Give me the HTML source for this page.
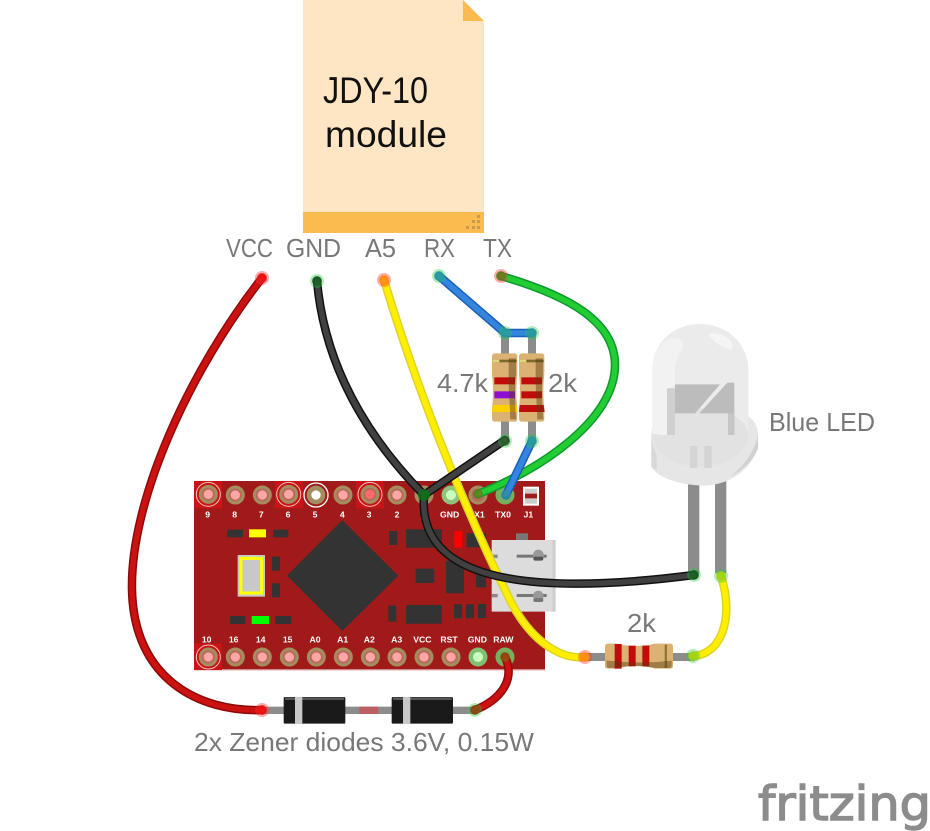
<!DOCTYPE html>
<html><head><meta charset="utf-8"><style>
html,body{margin:0;padding:0;background:#fff;width:930px;height:831px;overflow:hidden}
svg{display:block}
text{font-family:"Liberation Sans",sans-serif}
.lab{fill:#787878;font-size:26px}
.pl{fill:#fff;font-size:26px;font-weight:bold;text-anchor:middle}
</style></head><body>
<svg width="930" height="831" viewBox="0 0 930 831" xmlns="http://www.w3.org/2000/svg">
<!-- note -->
<path d="M303,0H463L484,21V233H303Z" fill="#fee6c4"/>
<path d="M463,0L484,21H463Z" fill="#fcbb4f"/>
<rect x="303" y="212" width="181" height="21" fill="#fcbb4f"/>
<g fill="#c89b4d"><rect x="477" y="215" width="3" height="3"/><rect x="472" y="220" width="3" height="3"/><rect x="477" y="220" width="3" height="3"/><rect x="466" y="226" width="3" height="3"/><rect x="472" y="226" width="3" height="3"/><rect x="477" y="226" width="3" height="3"/></g>
<text x="323" y="103" font-size="37" textLength="105" lengthAdjust="spacingAndGlyphs" fill="#111">JDY-10</text>
<text x="325" y="147" font-size="37" textLength="122" lengthAdjust="spacingAndGlyphs" fill="#111">module</text>
<g class="lab">
<text class="lab" x="226" y="257" textLength="47" lengthAdjust="spacingAndGlyphs">VCC</text>
<text class="lab" x="286" y="257" textLength="55" lengthAdjust="spacingAndGlyphs">GND</text>
<text class="lab" x="365" y="257" textLength="31" lengthAdjust="spacingAndGlyphs">A5</text>
<text class="lab" x="424" y="257" textLength="31" lengthAdjust="spacingAndGlyphs">RX</text>
<text class="lab" x="483" y="257" textLength="29" lengthAdjust="spacingAndGlyphs">TX</text>
<text class="lab" x="437" y="392" textLength="51" lengthAdjust="spacingAndGlyphs">4.7k</text>
<text class="lab" x="548" y="392" textLength="29" lengthAdjust="spacingAndGlyphs">2k</text>
<text class="lab" x="769" y="431" textLength="106" lengthAdjust="spacingAndGlyphs">Blue LED</text>
<text class="lab" x="627" y="632" textLength="29" lengthAdjust="spacingAndGlyphs">2k</text>
<text class="lab" x="194" y="751" textLength="340" lengthAdjust="spacingAndGlyphs">2x Zener diodes 3.6V, 0.15W</text>
</g>

<!-- board -->
<g transform="translate(190,470) scale(.33333)">
<rect x="12" y="33" width="1053" height="567" fill="#a01a1a"/>
<rect x="12" y="597" width="1053" height="4" fill="#d08a8a"/>
<rect x="12" y="33" width="84" height="82" fill="#c81414"/><rect x="255" y="33" width="84" height="82" fill="#c81414"/><rect x="498" y="33" width="84" height="82" fill="#c81414"/><rect x="12" y="520" width="84" height="80" fill="#c81414"/>
<g fill="#333"><path d="M457,150L625,317L457,483L291,317Z"/>
<rect x="112" y="179" width="47" height="23"/><rect x="249" y="179" width="46" height="23"/><rect x="120" y="438" width="46" height="24"/><rect x="256" y="438" width="48" height="24"/>
<rect x="246" y="260" width="24" height="42"/><rect x="246" y="340" width="24" height="42"/>
<rect x="598" y="183" width="24" height="42"/><rect x="648" y="178" width="108" height="55"/><rect x="830" y="190" width="58" height="42"/>
<rect x="677" y="296" width="56" height="43"/><rect x="768" y="273" width="54" height="97"/><rect x="858" y="300" width="30" height="52"/>
<rect x="595" y="407" width="24" height="48"/><rect x="648" y="405" width="108" height="56"/><rect x="792" y="403" width="24" height="42"/><rect x="828" y="403" width="24" height="42"/><rect x="864" y="402" width="24" height="42"/></g>
<rect x="177" y="178" width="51" height="24" fill="#ff0"/>
<rect x="185" y="438" width="52" height="24" fill="#0f0"/>
<rect x="793" y="183" width="24" height="50" fill="#f00"/>
<rect x="143" y="255" width="82" height="125" fill="#c8c8c8"/>
<rect x="153" y="265" width="62" height="104" fill="none" stroke="#ff0" stroke-width="9"/>
<!-- J1 -->
<rect x="999" y="50" width="48" height="57" fill="#fff"/><rect x="1005" y="56" width="36" height="45" fill="#ccc"/><rect x="1005" y="71" width="36" height="14" fill="#a01a1a"/>
<!-- USB -->
<rect x="978" y="190" width="36" height="22" fill="#777"/>
<path d="M905,210H1095V425H905Z" fill="#dcdcdc"/><rect x="1087" y="210" width="10" height="215" fill="#cfcfcf"/>
<rect x="980" y="254" width="90" height="9" fill="#777"/><circle cx="1045" cy="255" r="16" fill="#999"/><rect x="1030" y="260" width="30" height="12" rx="6" fill="#555"/>
<rect x="980" y="372" width="90" height="9" fill="#777"/><circle cx="1045" cy="378" r="16" fill="#999"/><rect x="1030" y="384" width="30" height="12" rx="6" fill="#777"/>
<rect x="905" y="254" width="18" height="10" fill="#888"/><rect x="905" y="372" width="18" height="10" fill="#888"/>
<!-- pins top -->
<g fill="#b66a5c" stroke="#a48d5e" stroke-width="9">
<circle cx="55" cy="73" r="24"/><circle cx="136" cy="75" r="24"/><circle cx="217" cy="75" r="24"/><circle cx="296" cy="73" r="24"/><circle cx="378" cy="75" r="28" fill="#a48d5e" stroke="none"/><circle cx="459" cy="75" r="24"/><circle cx="540" cy="73" r="24"/><circle cx="621" cy="75" r="24"/><circle cx="702" cy="75" r="24"/><circle cx="783" cy="75" r="24"/><circle cx="864" cy="75" r="24"/><circle cx="945" cy="75" r="24"/>
<circle cx="55" cy="561" r="24"/><circle cx="136" cy="561" r="24"/><circle cx="217" cy="561" r="24"/><circle cx="298" cy="561" r="24"/><circle cx="379" cy="561" r="24"/><circle cx="460" cy="561" r="24"/><circle cx="541" cy="561" r="24"/><circle cx="621" cy="561" r="24"/><circle cx="702" cy="561" r="24"/><circle cx="783" cy="561" r="24"/><circle cx="864" cy="561" r="24"/><circle cx="945" cy="561" r="24"/>
</g>
<g fill="none" stroke="#f6c0c0" stroke-width="3"><circle cx="55" cy="73" r="36"/><circle cx="296" cy="73" r="36"/><circle cx="540" cy="73" r="36"/><circle cx="55" cy="561" r="36"/></g>
<circle cx="378" cy="75" r="36" fill="none" stroke="#fff" stroke-width="4"/>
<g fill="#ffa5a5"><circle cx="55" cy="73" r="14"/><circle cx="136" cy="75" r="14"/><circle cx="217" cy="75" r="14"/><circle cx="296" cy="73" r="14"/><circle cx="459" cy="75" r="14"/><circle cx="621" cy="75" r="14"/>
<circle cx="55" cy="561" r="14"/><circle cx="136" cy="561" r="14"/><circle cx="217" cy="561" r="14"/><circle cx="298" cy="561" r="14"/><circle cx="379" cy="561" r="14"/><circle cx="460" cy="561" r="14"/><circle cx="541" cy="561" r="14"/><circle cx="621" cy="561" r="14"/><circle cx="702" cy="561" r="14"/><circle cx="783" cy="561" r="14"/></g>
<circle cx="378" cy="75" r="14" fill="#fff"/><circle cx="540" cy="73" r="14" fill="#ff6a6a"/>
<circle cx="783" cy="75" r="28" fill="#8fc37a"/><circle cx="783" cy="75" r="15" fill="#c8ffc0"/>
<circle cx="864" cy="561" r="28" fill="#7fbf70"/><circle cx="864" cy="561" r="15" fill="#c8ffc0"/>
<circle cx="945" cy="75" r="28" fill="#74b060"/><circle cx="945" cy="561" r="28" fill="#74b060"/>
<g class="pl">
<text class="pl" x="53" y="143">9</text><text class="pl" x="134" y="143">8</text><text class="pl" x="214" y="143">7</text><text class="pl" x="294" y="143">6</text><text class="pl" x="375" y="143">5</text><text class="pl" x="457" y="143">4</text><text class="pl" x="537" y="143">3</text><text class="pl" x="621" y="143">2</text><text class="pl" x="702" y="143">G</text><text class="pl" x="779" y="143">GND</text><text class="pl" x="859" y="143">RX1</text><text class="pl" x="939" y="143">TX0</text><text class="pl" x="1015" y="143">J1</text>
<text class="pl" x="50" y="518">10</text><text class="pl" x="131" y="518">16</text><text class="pl" x="212" y="518">14</text><text class="pl" x="293" y="518">15</text><text class="pl" x="375" y="518">A0</text><text class="pl" x="458" y="518">A1</text><text class="pl" x="538" y="518">A2</text><text class="pl" x="620" y="518">A3</text><text class="pl" x="697" y="518">VCC</text><text class="pl" x="777" y="518">RST</text><text class="pl" x="862" y="518">GND</text><text class="pl" x="940" y="518">RAW</text>
</g>
</g>

<!-- LED -->
<g transform="translate(640,320) scale(.33333)">
<rect x="144" y="470" width="34" height="290" fill="#8c8c8c"/><rect x="225" y="470" width="34" height="290" fill="#8c8c8c"/>
<path d="M34,340C34,290 90,260 194,260C300,260 354,290 354,345V385C330,450 270,495 190,497C110,495 50,470 34,440Z" fill="#e6e6e6"/>
<path d="M354,345V385C340,420 310,450 272,470C315,435 345,390 354,345Z" fill="#d2d2d2"/>
<path d="M34,345V440L50,450V405C42,390 36,370 34,345Z" fill="#d8d8d8"/>
<path d="M37,340V150C37,70 100,12 180,12C260,12 325,70 325,150V340C325,400 260,440 180,440C100,440 37,400 37,340Z" fill="#ebebeb"/>
<path d="M37,340C50,290 110,265 180,265C250,265 315,290 325,340C325,400 260,440 180,440C100,440 37,400 37,340Z" fill="#e2e2e2"/>
<path d="M37,340V150C37,90 75,40 122,58C145,70 110,100 105,140V195L81,210V345H60Z" fill="#f2f2f2"/>
<path d="M205,40C240,35 290,60 275,88C250,85 215,65 205,40Z" fill="#f5f5f5"/>
<path d="M105,193H240L165,280H264V345H283V188H262L178,280H105Z" fill="#bcbcbc"/>
<rect x="81" y="205" width="24" height="140" fill="#d0d0d0"/>
<rect x="264" y="280" width="19" height="65" fill="#c6c6c6"/>
<rect x="150" y="378" width="22" height="66" fill="#d4d4d4"/><rect x="193" y="378" width="22" height="66" fill="#d4d4d4"/>
</g>

<!-- bottom resistor & diode leads -->
<rect x="585" y="653" width="110" height="8" fill="#8c8c8c"/>
<g transform="translate(570,630) scale(.33333)">
<path d="M113,41H140C170,50 220,50 255,41H300Q309,41 309,50V108Q309,116 300,116H255C220,106 170,106 140,116H113Q105,116 105,108V50Q105,41 113,41Z" fill="#dbb274"/>
<path d="M134,42H155V116H134Z" fill="#c10c0c"/><rect x="176" y="47" width="21" height="62" fill="#c10c0c"/><rect x="217" y="47" width="21" height="62" fill="#c10c0c"/>
<rect x="284" y="44" width="7" height="70" fill="#8f7a2c"/>
<path d="M110,92C170,98 240,100 305,92V108Q305,114 296,114H255C220,106 170,106 140,114H118Q110,114 110,108Z" fill="#5a3a10" fill-opacity=".45"/>
</g>
<g transform="translate(240,680) scale(.33333)">
<rect x="60" y="80" width="640" height="22" fill="#8c8c8c"/>
<rect x="358" y="80" width="56" height="22" fill="#bd5f62"/>
<rect x="131" y="51" width="185" height="80" rx="4" fill="#1a1a1a"/><rect x="455" y="51" width="184" height="80" rx="4" fill="#1a1a1a"/>
<rect x="135" y="52" width="177" height="8" fill="#555"/><rect x="459" y="52" width="176" height="8" fill="#555"/>
<rect x="165" y="51" width="22" height="80" fill="#c8c8c8"/><rect x="489" y="51" width="22" height="80" fill="#c8c8c8"/>
</g>

<!-- vertical resistors -->
<g transform="translate(420,260) scale(.33333)">
<rect x="243" y="218" width="24" height="330" fill="#8c8c8c"/><rect x="324" y="218" width="24" height="330" fill="#8c8c8c"/>
<path d="M225,280H284Q292,280 292,290V345C288,380 288,410 292,445V475Q292,485 284,485H225Q216,485 216,475V445C220,410 220,380 216,345V290Q216,280 225,280Z" fill="#dbb274"/>
<path d="M306,280H365Q373,280 373,290V345C369,380 369,410 373,445V475Q373,485 365,485H306Q297,485 297,475V445C301,410 301,380 297,345V290Q297,280 306,280Z" fill="#dbb274"/>
<rect x="218" y="299" width="72" height="8" fill="#7d6a2a"/><rect x="218" y="299" width="20" height="8" fill="#e0d878"/>
<rect x="299" y="299" width="72" height="8" fill="#7d6a2a"/><rect x="299" y="299" width="20" height="8" fill="#e0d878"/>
<rect x="223" y="352" width="62" height="21" fill="#c10c0c"/><rect x="223" y="394" width="62" height="21" fill="#8b0fd0"/><path d="M218,435H290L293,456H216Z" fill="#ffd000"/>
<rect x="304" y="352" width="62" height="21" fill="#c10c0c"/><rect x="304" y="394" width="62" height="21" fill="#c10c0c"/><path d="M299,435H371L374,456H297Z" fill="#c10c0c"/>
<path d="M266,295H288V345C284,380 284,420 289,478H271C269,420 265,380 266,345Z" fill="#5a3a10" fill-opacity=".45"/>
<path d="M347,295H369V345C365,380 365,420 370,478H352C350,420 346,380 347,345Z" fill="#5a3a10" fill-opacity=".45"/>
</g>

<!-- wires -->
<g fill="none" stroke-linecap="round" stroke-linejoin="round">
<g stroke="#8e0a0a" stroke-width="8.5"><path d="M262,278C190,370 130,500 132,590C134,680 200,712 262,710"/><path d="M505,657C516,680 500,700 475,710"/></g>
<g stroke="#cc1111" stroke-width="5.5"><path d="M262,278C190,370 130,500 132,590C134,680 200,712 262,710"/><path d="M505,657C516,680 500,700 475,710"/></g>
<g stroke="#dcd42a" stroke-width="8.5"><path d="M384,280C420,400 470,520 510,600C530,640 560,660 585,657"/><path d="M721,576C735,620 720,655 693,656"/></g>
<g stroke="#ffee00" stroke-width="5.5"><path d="M384,280C420,400 470,520 510,600C530,640 560,660 585,657"/><path d="M721,576C735,620 720,655 693,656"/></g>
<g stroke="#0d9a2e" stroke-width="8.5"><path d="M501,276C570,296 615,322 615,365C615,420 540,470 478,494"/></g>
<g stroke="#22cc33" stroke-width="5.5"><path d="M501,276C570,296 615,322 615,365C615,420 540,470 478,494"/></g>
<g stroke="#1a5fb8" stroke-width="8.5"><path d="M439,276L505,333L532,333"/><path d="M532,441L506,495"/></g>
<g stroke="#3385dd" stroke-width="5.5"><path d="M439,276L505,333L532,333"/><path d="M532,441L506,495"/></g>
<g stroke="#111" stroke-width="8.5"><path d="M317,281C325,370 370,440 424,495"/><path d="M424,495L505,440"/><path d="M424,495C418,570 500,600 694,575"/></g>
<g stroke="#404040" stroke-width="5.5"><path d="M317,281C325,370 370,440 424,495"/><path d="M424,495L505,440"/><path d="M424,495C418,570 500,600 694,575"/></g>
</g>
<!-- connector dots -->
<g fill="#22cc44" fill-opacity=".35"><circle cx="439" cy="276" r="7"/><circle cx="505" cy="333" r="7"/><circle cx="532" cy="333" r="7"/><circle cx="505" cy="441" r="7"/><circle cx="532" cy="441" r="7"/><circle cx="317" cy="281" r="7"/><circle cx="694" cy="575" r="7"/><circle cx="721" cy="576" r="7"/><circle cx="693" cy="656" r="7"/><circle cx="475" cy="710" r="7"/></g>
<g fill="#ff3333" fill-opacity=".4"><circle cx="262" cy="278" r="7"/><circle cx="384" cy="280" r="7"/><circle cx="501" cy="276" r="7"/><circle cx="585" cy="657" r="7"/><circle cx="262" cy="710" r="7"/></g>
<g fill-opacity=".75"><circle cx="424" cy="495" r="6" fill="#0a7a14"/><circle cx="478" cy="494" r="5" fill="#667a1c"/><circle cx="506" cy="495" r="5" fill="#2c8fa0"/><circle cx="505" cy="657" r="5" fill="#8a5a10"/><circle cx="439" cy="276" r="5" fill="#2c9aa0"/><circle cx="505" cy="333" r="5" fill="#2c9aa0"/><circle cx="532" cy="333" r="5" fill="#2c9aa0"/><circle cx="532" cy="441" r="5" fill="#2c9aa0"/><circle cx="505" cy="441" r="5" fill="#2c5a2c"/><circle cx="501" cy="276" r="5" fill="#667a1c"/><circle cx="317" cy="281" r="5" fill="#1c5a20"/><circle cx="694" cy="575" r="5" fill="#1c5a20"/><circle cx="721" cy="576" r="5" fill="#a0d010"/><circle cx="693" cy="656" r="5" fill="#a0d010"/><circle cx="585" cy="657" r="5" fill="#ff8a10"/><circle cx="384" cy="280" r="5" fill="#ff8a10"/><circle cx="262" cy="278" r="5" fill="#ee1111"/><circle cx="262" cy="710" r="5" fill="#ee1111"/><circle cx="475" cy="710" r="5" fill="#8a4a10"/></g>

<!-- logo -->
<text x="758" y="820" font-size="47" fill="#8c8c8c" stroke="#8c8c8c" stroke-width="1.4" textLength="173" lengthAdjust="spacingAndGlyphs" style="font-family:'DejaVu Sans',sans-serif">fritzing</text>
</svg>
</body></html>
